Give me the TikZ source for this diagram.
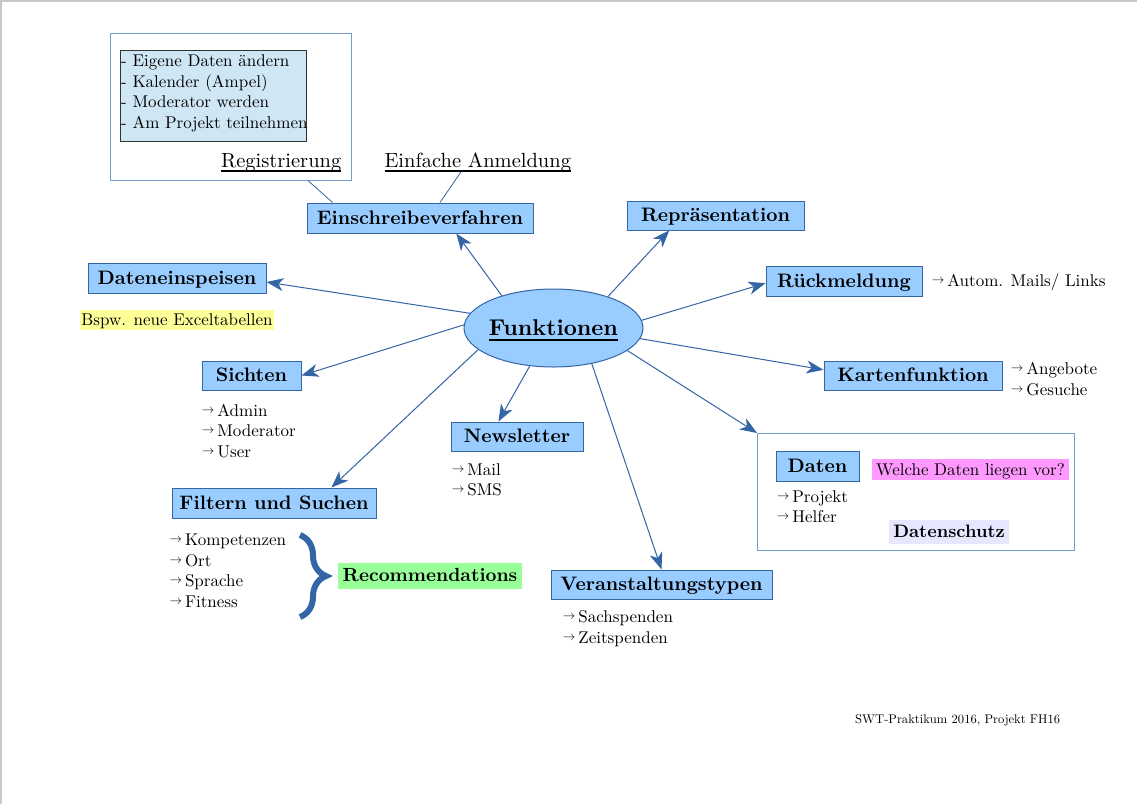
\documentclass[tikz,border=0pt]{standalone}
\usepackage{fix-cm}
\usepackage{fontspec}
\setmainfont{lmroman10-regular}[Extension=.otf, BoldFont=lmroman10-bold, ItalicFont=lmroman10-italic]
\usetikzlibrary{shapes.geometric,arrows.meta,calc,decorations.pathreplacing}
\definecolor{bfill}{HTML}{99CCFF}
\definecolor{bline}{HTML}{3465A4}
\definecolor{fline}{HTML}{729FCF}
\definecolor{regfill}{HTML}{CFE7F5}
\definecolor{hlyellow}{HTML}{FFFF99}
\definecolor{hlgreen}{HTML}{99FF99}
\definecolor{hlpink}{HTML}{FF99FF}
\definecolor{hllav}{HTML}{E6E6FF}
\definecolor{pageline}{HTML}{C8C8C8}
\newsavebox\ulbox
\newcommand\myul[2]{\sbox\ulbox{#2}\rlap{\usebox\ulbox}\rule[-#1]{\wd\ulbox}{2pt}}
\newcommand\myarr{\raisebox{3pt}{\fontsize{12.5}{12}\selectfont$\rightarrow$}\hspace{3pt}}
\newcommand\regfont[2]{\fontsize{#1}{#2}\selectfont}
\newcommand\boldfont[2]{\fontsize{#1}{#2}\selectfont\bfseries}
\tikzset{
  bluebox/.style={draw=bline, fill=bfill, line width=1pt, inner sep=0pt,
    font=\boldfont{19.5}{23}, text height=15pt, text depth=3pt},
  lst/.style={anchor=north west, inner sep=0pt, align=left,
    font=\regfont{17}{20.5}},
  txt/.style={anchor=base west, inner sep=0pt, font=\regfont{17}{20.5}},
  arr/.style={draw=bline, color=bline, line width=1pt,
    -{Stealth[length=17pt,width=13pt,inset=5pt]}},
  link/.style={draw=bline, line width=0.8pt},
  frame/.style={draw=fline, line width=1pt, inner sep=0pt, anchor=north west}
}
\begin{document}
\begin{tikzpicture}[x=1pt,y=-1pt]
\useasboundingbox (0,0) rectangle (1137,804);
\fill[white] (0,0) rectangle (1137,804);
\draw[pageline, line width=1.5pt] (1,804) -- (1,1) -- (1137,1);

% Registrierung frame
\node[frame, minimum width=241pt, minimum height=147pt] (regbox) at (110,33) {};
\node[draw=black!80, fill=regfill, line width=1pt, minimum width=186pt, minimum height=91pt,
  anchor=north west, inner sep=0pt] (regl) at (120,50) {};
\node[lst] (regt) at (121,54.8) {- Eigene Daten ändern\\- Kalender (Ampel)\\- Moderator werden\\- Am Projekt teilnehmen};
\node[anchor=base west, inner sep=0pt, font=\regfont{20.5}{24}] (reg) at (221,167.3)
  {\myul{4.4pt}{Registrierung}};
\node[anchor=base west, inner sep=0pt, font=\regfont{20.5}{24}] (anm) at (384.3,167.3)
  {\myul{4.4pt}{Einfache Anmeldung}};

% central ellipse
\node[ellipse, draw=bline, fill=bfill, line width=1pt, minimum width=179pt, minimum height=78pt,
  inner sep=0pt, font=\boldfont{22.8}{26}, text height=22pt, text depth=8pt]
  (fk) at (553.5,328) {\makebox[0pt]{\myul{6pt}{Funktionen}}};

% boxes
\node[bluebox, minimum width=226pt, minimum height=30pt] (eins) at (420,218) {Einschreibeverfahren};
\node[bluebox, minimum width=177pt, minimum height=29pt] (repr) at (715.5,215.5) {Repräsentation};
\node[bluebox, minimum width=156pt, minimum height=30pt] (rueck) at (844,281) {Rückmeldung};
\node[bluebox, minimum width=178pt, minimum height=29pt] (kart) at (913,375.5) {Kartenfunktion};
\node[frame, minimum width=317pt, minimum height=117pt] (datbox) at (757,433) {};
\node[bluebox, minimum width=83pt, minimum height=30pt] (daten) at (817.5,466) {Daten};
\node[bluebox, minimum width=221pt, minimum height=29pt] (veran) at (661.5,584.5) {Veranstaltungstypen};
\node[bluebox, minimum width=132pt, minimum height=29pt] (news) at (517,436.5) {Newsletter};
\node[bluebox, minimum width=204pt, minimum height=30pt] (filt) at (274,503) {Filtern und Suchen};
\node[bluebox, minimum width=99pt, minimum height=29pt] (sicht) at (251.5,375.5) {Sichten};
\node[bluebox, minimum width=178pt, minimum height=30pt] (de) at (177,278) {Dateneinspeisen};

% highlighted notes
\node[fill=hlyellow, minimum width=194pt, minimum height=20pt, inner sep=0pt,
  font=\regfont{17}{20.5}, text height=12pt, text depth=0.5pt] (bspw) at (177,320)
  {Bspw. neue Exceltabellen};
\node[fill=hlpink, minimum width=197pt, minimum height=21pt, inner sep=0pt,
  font=\regfont{17}{20.5}, text height=11.5pt, text depth=0.5pt] (welche) at (970.5,469.5)
  {Welche Daten liegen vor?};
\node[fill=hllav, minimum width=120pt, minimum height=24pt, inner sep=0pt,
  font=\boldfont{18}{21}, text height=13pt, text depth=2.4pt] (dschutz) at (949,532)
  {Datenschutz};
\node[fill=hlgreen, minimum width=184pt, minimum height=26pt, inner sep=0pt,
  font=\boldfont{19}{22}, text height=14pt, text depth=2.6pt] (recom) at (430,576)
  {Recommendations};

% lists
\node[txt] (rueckl) at (931.7,286.7) {\myarr Autom. Mails/ Links};
\node[lst, font=\regfont{17}{20.7}] (kartl) at (1010.7,362.6) {\myarr Angebote\\\myarr Gesuche};
\node[lst] (datl) at (776.7,490) {\myarr Projekt\\\myarr Helfer};
\node[lst] (veranl) at (562.7,610.6) {\myarr Sachspenden\\\myarr Zeitspenden};
\node[lst] (newsl) at (451.7,463.3) {\myarr Mail\\\myarr SMS};
\node[lst] (filtl) at (169.3,534) {\myarr Kompetenzen\\\myarr Ort\\\myarr Sprache\\\myarr Fitness};
\node[lst] (sichtl) at (201.7,404) {\myarr Admin\\\myarr Moderator\\\myarr User};

\node[anchor=base west, inner sep=0pt, font=\regfont{12.6}{15}] (swt) at (855,723.3)
  {SWT-Praktikum 2016, Projekt FH16};

% brace
\draw[bline, line width=6pt, decorate, decoration={brace, amplitude=26pt}] (300,535) -- (300,617);

% links
\draw[link] ($(regbox.south west)!0.82!(regbox.south east)$) -- ($(eins.north west)!0.115!(eins.north east)$);
\draw[link] ($(anm.south west)!0.41!(anm.south east)$) -- ($(eins.north west)!0.588!(eins.north east)$);

% arrows
\draw[arr] (fk.148.6) -- ($(eins.south west)!0.66!(eins.south east)$);
\draw[arr] (fk.30.9) -- ($(repr.south west)!0.24!(repr.south east)$);
\draw[arr] (fk.5.1) -- ($(rueck.north west)!0.57!(rueck.south west)$);
\draw[arr] (fk.-7.1) -- ($(kart.north west)!0.31!(kart.south west)$);
\draw[arr] (fk.-17.7) -- (datbox.north west);
\draw[arr] (fk.-43.1) -- (veran.north);
\draw[arr] (fk.-122.8) -- ($(news.north west)!0.36!(news.north east)$);
\draw[arr] (fk.-164.8) -- ($(filt.north west)!0.78!(filt.north east)$);
\draw[arr] (fk.178) -- (sicht.east);
\draw[arr] (fk.170.6) -- ($(de.north east)!0.63!(de.south east)$);
\end{tikzpicture}
\end{document}
